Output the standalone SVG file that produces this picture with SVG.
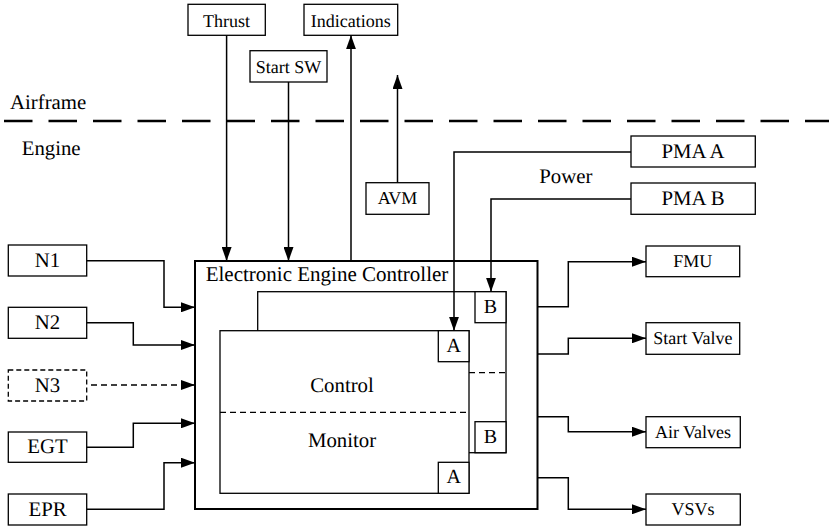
<svg xmlns="http://www.w3.org/2000/svg" width="829" height="527" viewBox="0 0 829 527" font-family="'Liberation Serif', 'Times New Roman', serif" text-rendering="geometricPrecision">
<style>
text{font-family:"Liberation Serif","Times New Roman",serif;fill:#000;text-rendering:geometricPrecision}
.s{font-size:18px}
.l{font-size:20.8px}
.ab{font-size:20px}
.m{text-anchor:middle}
.box{fill:#fff;stroke:#000;stroke-width:1.3}
.dbox{fill:#fff;stroke:#000;stroke-width:1.3;stroke-dasharray:5,3}
.c{fill:none;stroke:#000;stroke-width:1.5}
.cd{fill:none;stroke:#000;stroke-width:1.5;stroke-dasharray:6,4}
.div{fill:none;stroke:#000;stroke-width:1.3;stroke-dasharray:6,4}
</style>
<defs>
<marker id="arr" markerUnits="userSpaceOnUse" markerWidth="14" markerHeight="10" refX="14" refY="5" orient="auto">
<path d="M0,0 L14,5 L0,10 z" fill="#000"/>
</marker>
</defs>
<rect width="829" height="527" fill="#fff"/>

<g id="boundary">
<line x1="4" y1="121" x2="829" y2="121" stroke="#000" stroke-width="2.5" stroke-dasharray="28.5,16"/>
<text class="l" x="10" y="108.5">Airframe</text>
<text class="l" x="21.7" y="155">Engine</text>
<text class="l" x="539.3" y="183">Power</text>
</g>

<g id="eec">
<rect x="195" y="261" width="342.5" height="248" fill="#fff" stroke="#000" stroke-width="2"/>
<text class="l" x="205.7" y="280.7" style="font-size:21px">Electronic Engine Controller</text>
</g>
<g id="channel-b">
<rect class="box" x="257.7" y="291.7" width="248.3" height="161"/>
<line class="div" x1="469" y1="372.7" x2="506" y2="372.7"/>
<g id="b-top"><rect class="box" x="475" y="291.7" width="31" height="31"/><text class="ab m" x="490.5" y="313.3">B</text></g>
<g id="b-bottom"><rect class="box" x="475" y="421.7" width="31" height="31"/><text class="ab m" x="490.5" y="443.3">B</text></g>
</g>
<g id="channel-a">
<rect class="box" x="220" y="330.7" width="249" height="162.6"/>
<line class="div" x1="220" y1="412.3" x2="469" y2="412.3"/>
<text class="l m" x="342" y="391.7">Control</text>
<text class="l m" x="342" y="446.7">Monitor</text>
<g id="a-top"><rect class="box" x="438.3" y="330.7" width="30.7" height="31"/><text class="ab m" x="453.7" y="351.7">A</text></g>
<g id="a-bottom"><rect class="box" x="438.3" y="462.3" width="30.7" height="31"/><text class="ab m" x="453.7" y="483.3">A</text></g>
</g>

<g id="thrust"><rect class="box" x="188" y="4.3" width="77.3" height="31"/><text class="s m" x="226.6" y="26.7">Thrust</text></g>
<g id="indications"><rect class="box" x="304" y="4.3" width="93.7" height="31"/><text class="s m" x="350.8" y="26.7">Indications</text></g>
<g id="startsw"><rect class="box" x="250" y="50.7" width="77" height="31.3"/><text class="s m" x="288.5" y="73.3">Start SW</text></g>
<g id="avm"><rect class="box" x="366" y="182.7" width="63" height="31.6"/><text class="s m" x="397.5" y="204.3">AVM</text></g>
<g id="pmaa"><rect class="box" x="631" y="136" width="124.3" height="31"/><text class="l m" x="693" y="157.7">PMA A</text></g>
<g id="pmab"><rect class="box" x="631" y="183" width="124.3" height="31.3"/><text class="l m" x="693" y="205">PMA B</text></g>

<g id="n1"><rect class="box" x="8.3" y="245" width="78.4" height="31"/><text class="l m" x="47.5" y="266.7">N1</text></g>
<g id="n2"><rect class="box" x="8.3" y="307.3" width="78.4" height="31"/><text class="l m" x="47.5" y="329.3">N2</text></g>
<g id="n3"><rect class="dbox" x="8.3" y="370" width="78.4" height="31"/><text class="l m" x="47.5" y="391.7">N3</text></g>
<g id="egt"><rect class="box" x="8.3" y="432" width="78.4" height="30.3"/><text class="l m" x="47.5" y="453.3">EGT</text></g>
<g id="epr"><rect class="box" x="8.3" y="494" width="78.4" height="31"/><text class="l m" x="47.5" y="516">EPR</text></g>

<g id="fmu"><rect class="box" x="646" y="246" width="93.7" height="30.7"/><text class="s m" x="692.8" y="267">FMU</text></g>
<g id="startvalve"><rect class="box" x="646" y="322.7" width="93.7" height="31.6"/><text class="s m" x="692.8" y="344.3">Start Valve</text></g>
<g id="airvalves"><rect class="box" x="646" y="416.7" width="94.3" height="31"/><text class="s m" x="693" y="438.3">Air Valves</text></g>
<g id="vsvs"><rect class="box" x="646" y="494" width="94.3" height="31"/><text class="s m" x="693" y="515">VSVs</text></g>

<g id="connectors">
<path class="c" d="M226.6,35.3 V261" marker-end="url(#arr)"/>
<path class="c" d="M288.5,82 V261" marker-end="url(#arr)"/>
<path class="c" d="M351,261 V35.3" marker-end="url(#arr)"/>
<path class="c" d="M397.5,182.7 V75" marker-end="url(#arr)"/>
<path class="c" d="M631,152 H454 V330.7" marker-end="url(#arr)"/>
<path class="c" d="M631,199 H491 V291.7" marker-end="url(#arr)"/>
<path class="c" d="M86.7,260.7 H164 V307.3 H195" marker-end="url(#arr)"/>
<path class="c" d="M86.7,322.7 H133.3 V345 H195" marker-end="url(#arr)"/>
<path class="cd" d="M91,385 H195" marker-end="url(#arr)"/>
<path class="c" d="M86.7,447.3 H133.3 V423.3 H195" marker-end="url(#arr)"/>
<path class="c" d="M86.7,509.3 H164 V462.7 H195" marker-end="url(#arr)"/>
<path class="c" d="M537.5,306.7 H568.3 V261.7 H646" marker-end="url(#arr)"/>
<path class="c" d="M537.5,354 H568.3 V338.3 H646" marker-end="url(#arr)"/>
<path class="c" d="M537.5,416.7 H568.3 V431.7 H646" marker-end="url(#arr)"/>
<path class="c" d="M537.5,477.7 H568.3 V509.3 H646" marker-end="url(#arr)"/>
</g>
</svg>
